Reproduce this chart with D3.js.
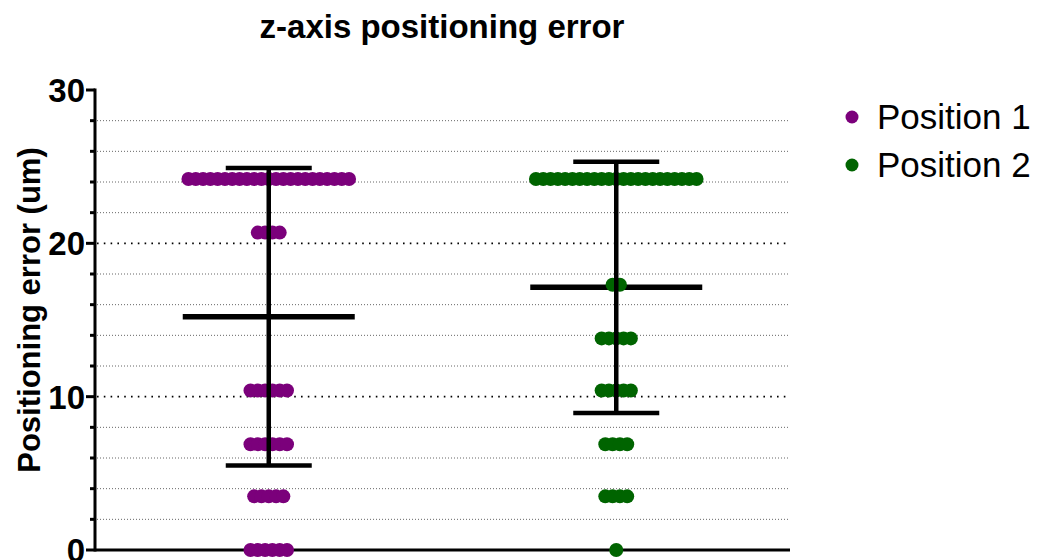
<!DOCTYPE html>
<html>
<head>
<meta charset="utf-8">
<script src="https://cdn.jsdelivr.net/npm/d3@7"></script>
<style>
  html, body { margin: 0; padding: 0; background: #fff; }
  svg { display: block; font-family: "Liberation Sans", Arial, sans-serif; }
</style>
</head>
<body>
<svg id="chart" width="1039" height="560"></svg>
<script>
// Measured z-axis positioning errors (um) for each stage position
const groups = ["Position 1", "Position 2"];
const colors = ["#7b007b", "#006400"];

const position1 = [
  24.2, 24.2, 24.2, 24.2, 24.2, 24.2, 24.2, 24.2, 24.2, 24.2, 24.2, 24.2,
  24.2, 24.2, 24.2, 24.2, 24.2, 24.2, 24.2, 24.2, 24.2, 24.2, 24.2,
  20.7, 20.7, 20.7, 20.7,
  10.4, 10.4, 10.4, 10.4, 10.4, 10.4,
  6.9, 6.9, 6.9, 6.9, 6.9, 6.9,
  3.5, 3.5, 3.5, 3.5, 3.5,
  0, 0, 0, 0, 0, 0
];

const position2 = [
  24.2, 24.2, 24.2, 24.2, 24.2, 24.2, 24.2, 24.2, 24.2, 24.2, 24.2, 24.2,
  24.2, 24.2, 24.2, 24.2, 24.2, 24.2, 24.2, 24.2, 24.2, 24.2, 24.2,
  17.3, 17.3,
  13.8, 13.8, 13.8, 13.8, 13.8,
  10.4, 10.4, 10.4, 10.4, 10.4,
  6.9, 6.9, 6.9, 6.9,
  3.5, 3.5, 3.5, 3.5,
  0
];

const yTicksMajor = [0, 10, 20, 30];
const yTicksMinor = [2, 4, 6, 8, 12, 14, 16, 18, 22, 24, 26, 28];

const series = [position1, position2];

const svg = d3.select("#chart");
const plotLeft = 95, plotRight = 790, plotTop = 90, plotBottom = 550;

const y = d3.scaleLinear().domain([0, 30]).range([plotBottom, plotTop]);
const x = d3.scalePoint().domain(groups).range([plotLeft, plotRight]).padding(0.5);

// Gridlines
const grid = svg.append("g");
grid.selectAll("line.minor").data(yTicksMinor).join("line")
  .attr("class", "minor")
  .attr("x1", plotLeft + 2).attr("x2", plotRight)
  .attr("y1", d => y(d)).attr("y2", d => y(d))
  .attr("stroke", "#666").attr("stroke-width", 1)
  .attr("stroke-dasharray", "1,2");
grid.selectAll("line.major").data([10, 20]).join("line")
  .attr("class", "major")
  .attr("x1", plotLeft + 2).attr("x2", plotRight)
  .attr("y1", d => y(d)).attr("y2", d => y(d))
  .attr("stroke", "#000").attr("stroke-width", 1.6)
  .attr("stroke-dasharray", "1.6,5.2");

// X baseline
svg.append("line")
  .attr("x1", plotLeft).attr("x2", plotRight)
  .attr("y1", y(0)).attr("y2", y(0))
  .attr("stroke", "#000").attr("stroke-width", 3);

// Y axis with major and minor ticks
const yAxis = svg.append("g");
yAxis.append("line")
  .attr("x1", plotLeft).attr("x2", plotLeft)
  .attr("y1", y(30) - 1.5).attr("y2", y(0) + 1.5)
  .attr("stroke", "#000").attr("stroke-width", 3);
yAxis.selectAll("line.tmaj").data(yTicksMajor).join("line")
  .attr("class", "tmaj")
  .attr("x1", plotLeft - 9).attr("x2", plotLeft)
  .attr("y1", d => y(d)).attr("y2", d => y(d))
  .attr("stroke", "#000").attr("stroke-width", 3);
yAxis.selectAll("line.tmin").data(yTicksMinor).join("line")
  .attr("class", "tmin")
  .attr("x1", plotLeft - 5).attr("x2", plotLeft)
  .attr("y1", d => y(d)).attr("y2", d => y(d))
  .attr("stroke", "#000").attr("stroke-width", 3);
yAxis.selectAll("text").data(yTicksMajor).join("text")
  .attr("x", plotLeft - 10).attr("y", d => y(d) + 12)
  .attr("text-anchor", "end")
  .attr("font-size", 33).attr("font-weight", "bold")
  .text(d => d);

// Axis title
svg.append("text")
  .attr("transform", `translate(40, ${(plotTop + plotBottom) / 2 - 10}) rotate(-90)`)
  .attr("text-anchor", "middle")
  .attr("font-size", 31).attr("font-weight", "bold")
  .text("Positioning error (um)");

// Chart title
svg.append("text")
  .attr("x", 442).attr("y", 38)
  .attr("text-anchor", "middle")
  .attr("font-size", 33).attr("font-weight", "bold")
  .text("z-axis positioning error");

// Scatter points: equal values spread symmetrically around the group centre
const spacing = 7.3, radius = 7;
series.forEach((vals, gi) => {
  const cx = x(groups[gi]);
  const g = svg.append("g");
  const rows = d3.groups(vals, v => v);

  // mean line (under points)
  const m = d3.mean(vals), sd = d3.deviation(vals);
  g.append("line")
    .attr("x1", cx - 86).attr("x2", cx + 86)
    .attr("y1", y(m)).attr("y2", y(m))
    .attr("stroke", "#000").attr("stroke-width", 5.5);

  rows.forEach(([v, arr]) => {
    const n = arr.length;
    g.append("g").selectAll("circle").data(arr).join("circle")
      .attr("cx", (d, i) => cx + (i - (n - 1) / 2) * spacing)
      .attr("cy", y(v))
      .attr("r", radius)
      .attr("fill", colors[gi]);
  });

  // SD whisker and caps
  g.append("line")
    .attr("x1", cx).attr("x2", cx)
    .attr("y1", y(m - sd)).attr("y2", y(m + sd))
    .attr("stroke", "#000").attr("stroke-width", 4.5);
  [m - sd, m + sd].forEach(v => {
    g.append("line")
      .attr("x1", cx - 43).attr("x2", cx + 43)
      .attr("y1", y(v)).attr("y2", y(v))
      .attr("stroke", "#000").attr("stroke-width", 4.5);
  });
});

// Legend
const legend = svg.append("g");
groups.forEach((name, i) => {
  const ly = 117 + i * 48;
  legend.append("circle")
    .attr("cx", 852).attr("cy", ly).attr("r", 6.5)
    .attr("fill", colors[i]);
  legend.append("text")
    .attr("x", 877).attr("y", ly + 12)
    .attr("font-size", 35)
    .text(name);
});
</script>
</body>
</html>
